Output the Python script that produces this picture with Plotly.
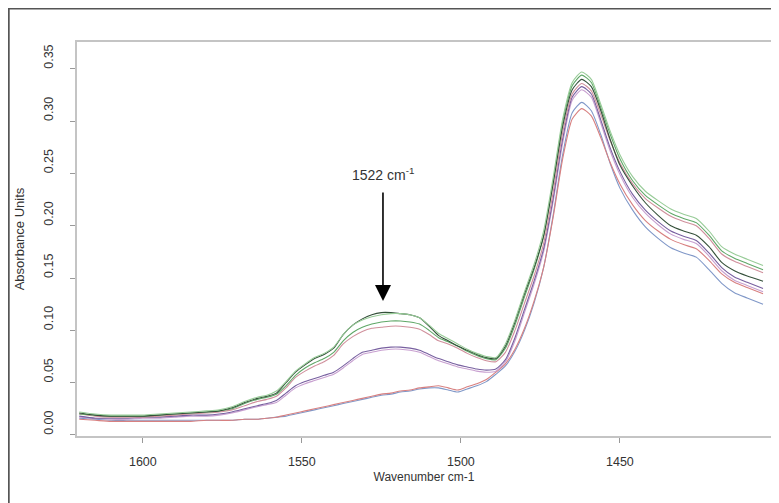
import plotly.graph_objects as go

wavenumber = [1620, 1615, 1610, 1605, 1600, 1595, 1590, 1585, 1580, 1576,
              1572, 1568, 1564, 1561, 1558, 1555, 1552, 1549, 1546, 1543,
              1540, 1537, 1534, 1531, 1528, 1525, 1522, 1519, 1516, 1513,
              1510, 1507, 1504, 1501, 1498, 1495, 1492, 1489, 1486, 1483,
              1480, 1477, 1474, 1471, 1468, 1465, 1462, 1459, 1456, 1453,
              1450, 1446, 1442, 1438, 1434, 1430, 1426, 1422, 1418, 1414,
              1410, 1405]

spec_a = [0.021, 0.019, 0.018, 0.018, 0.018, 0.019, 0.020, 0.021, 0.022, 0.023,
          0.026, 0.031, 0.035, 0.037, 0.040, 0.050, 0.060, 0.067, 0.073, 0.077,
          0.083, 0.096, 0.105, 0.111, 0.115, 0.117, 0.117, 0.116, 0.115, 0.112,
          0.104, 0.095, 0.090, 0.085, 0.081, 0.077, 0.074, 0.073, 0.085, 0.108,
          0.135, 0.160, 0.190, 0.240, 0.295, 0.330, 0.340, 0.333, 0.310, 0.282,
          0.258, 0.238, 0.222, 0.210, 0.200, 0.195, 0.191, 0.180, 0.165, 0.157,
          0.152, 0.147]
spec_b = [0.022, 0.020, 0.019, 0.019, 0.019, 0.020, 0.021, 0.022, 0.023, 0.024,
          0.027, 0.032, 0.036, 0.038, 0.042, 0.051, 0.061, 0.068, 0.074, 0.078,
          0.084, 0.096, 0.105, 0.110, 0.113, 0.115, 0.116, 0.116, 0.115, 0.112,
          0.105, 0.097, 0.092, 0.087, 0.082, 0.078, 0.075, 0.074, 0.087, 0.110,
          0.137, 0.163, 0.195, 0.246, 0.302, 0.337, 0.347, 0.340, 0.316, 0.290,
          0.268, 0.247, 0.233, 0.224, 0.216, 0.211, 0.207, 0.195, 0.180, 0.173,
          0.168, 0.162]
spec_c = [0.020, 0.019, 0.018, 0.018, 0.018, 0.019, 0.020, 0.021, 0.022, 0.023,
          0.025, 0.030, 0.034, 0.036, 0.039, 0.047, 0.057, 0.064, 0.069, 0.073,
          0.079, 0.090, 0.098, 0.103, 0.106, 0.108, 0.109, 0.109, 0.108, 0.106,
          0.100, 0.093, 0.089, 0.085, 0.080, 0.076, 0.073, 0.072, 0.083, 0.105,
          0.132, 0.158, 0.190, 0.242, 0.299, 0.334, 0.344, 0.337, 0.313, 0.287,
          0.264, 0.243, 0.229, 0.220, 0.212, 0.207, 0.203, 0.191, 0.176, 0.169,
          0.164, 0.158]
spec_d = [0.020, 0.018, 0.017, 0.017, 0.017, 0.018, 0.019, 0.020, 0.021, 0.022,
          0.024, 0.028, 0.032, 0.034, 0.037, 0.045, 0.055, 0.061, 0.066, 0.070,
          0.076, 0.087, 0.094, 0.099, 0.102, 0.103, 0.104, 0.104, 0.103, 0.101,
          0.096, 0.090, 0.087, 0.083, 0.078, 0.074, 0.071, 0.070, 0.079, 0.100,
          0.126, 0.152, 0.183, 0.232, 0.289, 0.326, 0.336, 0.329, 0.306, 0.281,
          0.260, 0.240, 0.226, 0.217, 0.209, 0.204, 0.200, 0.188, 0.173, 0.166,
          0.161, 0.155]
spec_e = [0.018, 0.016, 0.016, 0.016, 0.017, 0.017, 0.018, 0.019, 0.019, 0.020,
          0.022, 0.025, 0.028, 0.030, 0.033, 0.040, 0.047, 0.051, 0.054, 0.057,
          0.060, 0.066, 0.073, 0.079, 0.081, 0.083, 0.084, 0.084, 0.083, 0.081,
          0.077, 0.073, 0.070, 0.067, 0.065, 0.063, 0.062, 0.063, 0.072, 0.093,
          0.120, 0.147, 0.178, 0.226, 0.283, 0.323, 0.333, 0.326, 0.301, 0.274,
          0.252, 0.230, 0.215, 0.204, 0.195, 0.190, 0.186, 0.174, 0.160, 0.151,
          0.146, 0.140]
spec_f = [0.017, 0.016, 0.015, 0.015, 0.016, 0.016, 0.017, 0.018, 0.018, 0.019,
          0.021, 0.024, 0.027, 0.029, 0.031, 0.038, 0.045, 0.049, 0.052, 0.055,
          0.058, 0.064, 0.071, 0.077, 0.079, 0.081, 0.082, 0.082, 0.081, 0.079,
          0.075, 0.071, 0.068, 0.065, 0.063, 0.061, 0.060, 0.061, 0.070, 0.090,
          0.117, 0.144, 0.175, 0.223, 0.279, 0.320, 0.330, 0.323, 0.298, 0.271,
          0.249, 0.227, 0.212, 0.201, 0.192, 0.187, 0.183, 0.171, 0.157, 0.148,
          0.143, 0.137]
spec_g = [0.015, 0.014, 0.013, 0.013, 0.013, 0.013, 0.013, 0.013, 0.014, 0.014,
          0.014, 0.015, 0.015, 0.016, 0.017, 0.019, 0.021, 0.023, 0.025, 0.027,
          0.029, 0.031, 0.033, 0.035, 0.037, 0.039, 0.040, 0.042, 0.043, 0.045,
          0.046, 0.047, 0.045, 0.043, 0.046, 0.049, 0.053, 0.060, 0.068, 0.082,
          0.102, 0.128, 0.160, 0.208, 0.264, 0.302, 0.312, 0.305, 0.284, 0.260,
          0.240, 0.220, 0.205, 0.195, 0.187, 0.182, 0.178, 0.167, 0.154, 0.146,
          0.141, 0.135]
spec_h = [0.016, 0.015, 0.014, 0.014, 0.014, 0.014, 0.014, 0.014, 0.014, 0.014,
          0.014, 0.015, 0.015, 0.016, 0.017, 0.018, 0.020, 0.022, 0.024, 0.026,
          0.028, 0.030, 0.032, 0.034, 0.036, 0.038, 0.039, 0.041, 0.042, 0.044,
          0.045, 0.045, 0.043, 0.041, 0.044, 0.047, 0.051, 0.058, 0.066, 0.080,
          0.100, 0.126, 0.160, 0.210, 0.268, 0.308, 0.318, 0.310, 0.287, 0.259,
          0.236, 0.215, 0.199, 0.188, 0.179, 0.174, 0.170, 0.158, 0.145, 0.136,
          0.131, 0.125]

series = [spec_h, spec_g, spec_f, spec_e, spec_d, spec_c, spec_a, spec_b]
colors = ["#8098c8", "#d88080", "#c8a0d0", "#7860a0", "#d0909c", "#60a868", "#34503a", "#98cc98"]

y_ticks = [0.00, 0.05, 0.10, 0.15, 0.20, 0.25, 0.30, 0.35]
y_labels = ["0.00", "0.05", "0.10", "0.15", "0.20", "0.25", "0.30", "0.35"]
x_ticks = [1450, 1500, 1550, 1600]

pad = "\u00a0" * 6
fig = go.Figure()
for s, c in zip(series, colors):
    fig.add_trace(go.Scatter(x=wavenumber, y=s, mode="lines",
                             line=dict(color=c, width=1.1, shape="spline", smoothing=0.6),
                             showlegend=False, hoverinfo="skip"))

font = dict(family="Liberation Sans, Arial, sans-serif", size=12.5, color="#333333")

fig.update_layout(
    width=771, height=495,
    margin=dict(l=69, r=6, t=34, b=67),
    paper_bgcolor="white", plot_bgcolor="white",
    font=font,
    xaxis=dict(range=[1620.7, 1402.5], tickvals=x_ticks, ticks="outside", ticklen=5,
               tickcolor="#999999", showline=True, mirror=True, linecolor="#c4c4c4",
               linewidth=2, showgrid=False, zeroline=False, ticklabelstandoff=8,
               title=dict(text="Wavenumber cm-1", standoff=5, font=dict(size=12))),
    yaxis=dict(range=[-0.001, 0.3757], tickvals=y_ticks,
               ticktext=[pad + t for t in y_labels], ticks="outside",
               ticklen=5, tickcolor="#999999", tickangle=-90, showline=True, mirror=True,
               linecolor="#c4c4c4", linewidth=2, showgrid=False, zeroline=False,
               ticklabelstandoff=12,
               title=dict(text="\u00a0" * 5 + "Absorbance Units", standoff=14,
                          font=dict(size=13))),
    shapes=[dict(type="rect", xref="paper", yref="paper", x0=-0.0984, x1=1.03,
                 y0=-0.2, y1=1.085, line=dict(color="#555555", width=2))],
    annotations=[
        dict(x=1524.5, y=0.128, ax=1524.5, ay=0.2495, xref="x", yref="y",
             axref="x", ayref="y", text="1522 cm<sup>-1</sup>", showarrow=True,
             arrowhead=2, arrowsize=2, arrowwidth=1.6, arrowcolor="black",
             startstandoff=8, font=dict(size=14, color="#333333")),
    ],
)

fig.write_html("out.html")
